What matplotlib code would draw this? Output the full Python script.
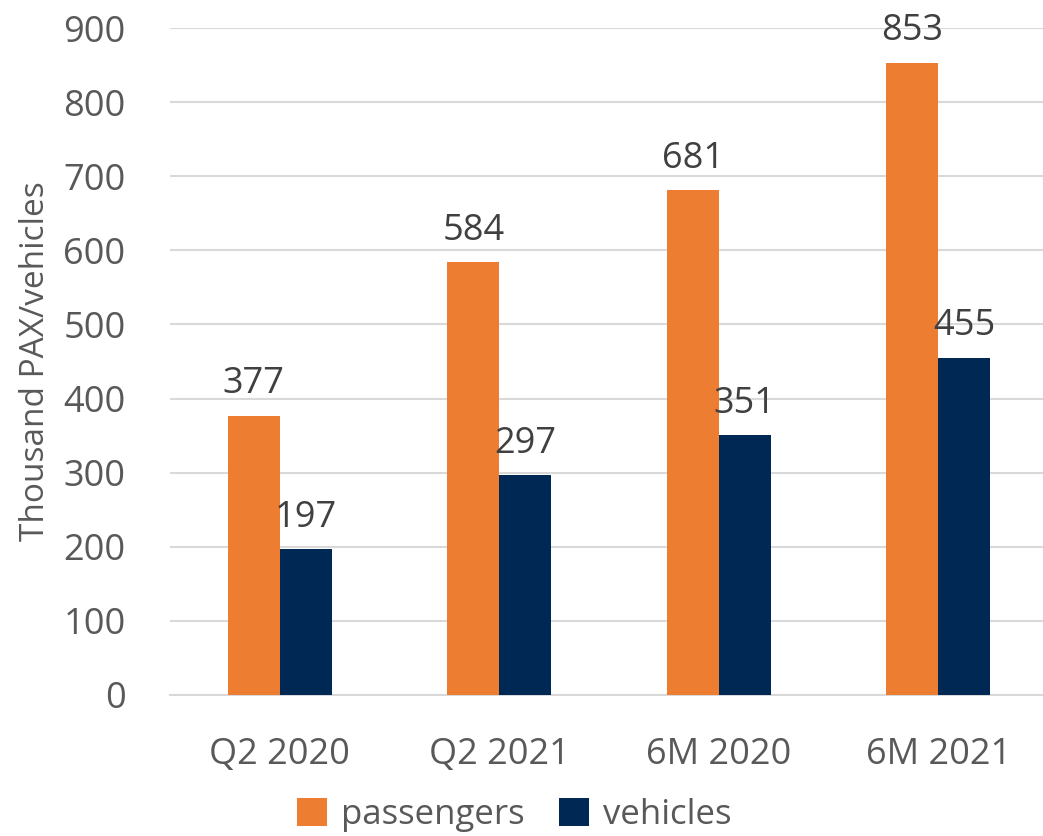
import numpy as np
import matplotlib.pyplot as plt

categories = ["Q2 2020", "Q2 2021", "6M 2020", "6M 2021"]
passengers = [377, 584, 681, 853]
vehicles = [197, 297, 351, 455]
yticks = [0, 100, 200, 300, 400, 500, 600, 700, 800, 900]

orange = "#ED7D31"
navy = "#002855"
plt.rcParams['font.family'] = ['Open Sans', 'DejaVu Sans']

fig = plt.figure(figsize=(10.43, 8.36), dpi=100)
ax = fig.add_axes([170/1043, 1 - 695/836, 878/1043, 667/836])

x = np.arange(len(categories))
w = 0.236
b1 = ax.bar(x - w/2, passengers, w, color=orange, label="passengers", zorder=3)
b2 = ax.bar(x + w/2, vehicles, w, color=navy, label="vehicles", zorder=3)

for bars in (b1, b2):
    for r in bars:
        ax.text(r.get_x() + r.get_width()/2, r.get_height() + 18, str(int(r.get_height())),
                ha='center', va='bottom', fontsize=26, color='#404040', zorder=4)

ax.set_xlim(-0.5, 3.5)
ax.set_ylim(0, 900)
ax.set_yticks(yticks)
ax.set_xticks(x)
ax.set_xticklabels(categories)
ax.tick_params(axis='both', length=0, labelsize=26, colors='#595959')
ax.tick_params(axis='x', pad=30)
ax.tick_params(axis='y', pad=32)
ax.grid(axis='y', color='#d9d9d9', linewidth=1.5, zorder=0)
for s in ['top', 'right', 'left']:
    ax.spines[s].set_visible(False)
ax.spines['bottom'].set_color('#d9d9d9')
ax.spines['bottom'].set_linewidth(1.5)
ax.set_ylabel("Thousand PAX/vehicles", fontsize=24, color='#595959', labelpad=8)

fig.legend(loc='center', bbox_to_anchor=(0.493, 0.025), ncol=2, frameon=False,
           fontsize=25, labelcolor='#595959', handlelength=0.85, handleheight=0.85,
           handletextpad=0.4, columnspacing=1.0)

fig.savefig("out.png", dpi=100)
